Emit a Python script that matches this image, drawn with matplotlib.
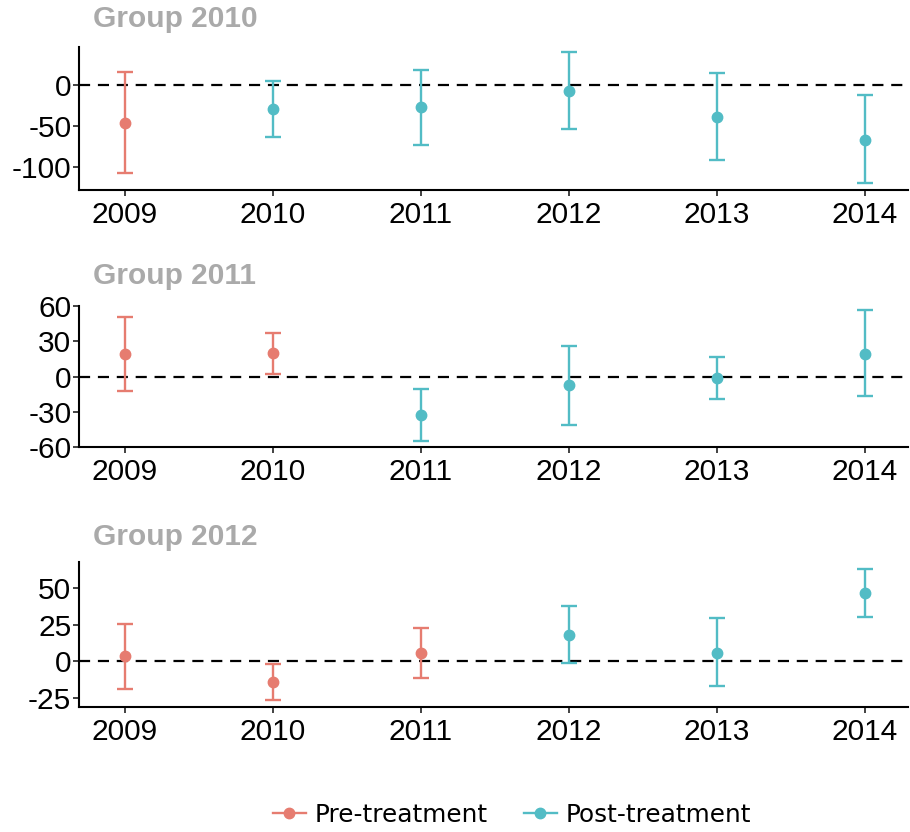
import matplotlib.pyplot as plt
from matplotlib.lines import Line2D
from matplotlib.ticker import FuncFormatter

plt.rcParams['font.family'] = ['Liberation Sans', 'DejaVu Sans']
plt.rcParams['axes.unicode_minus'] = False

PRE_COLOR = '#E67C70'
POST_COLOR = '#52BCC5'

years = [2009, 2010, 2011, 2012, 2013, 2014]
groups = [2010, 2011, 2012]

# point estimates and interval bounds, one list per treatment group
est_2010 = [-46, -30, -27, -7, -39, -67]
lo_2010 = [-107, -64, -73, -54, -91, -120]
hi_2010 = [15, 5, 18, 40, 14, -13]

est_2011 = [19.5, 20, -32.5, -7.5, -1, 19.5]
lo_2011 = [-12, 2, -54.5, -41, -19.5, -17]
hi_2011 = [51, 37, -10.5, 26, 17, 56.5]

est_2012 = [3.6, -14, 6, 18, 6, 46.5]
lo_2012 = [-18.6, -26, -11.5, -1.4, -17, 30]
hi_2012 = [25.3, -1.6, 23, 37.6, 29.4, 63]

panels = [
    (2010, est_2010, lo_2010, hi_2010, (-128, 46), [-100, -50, 0]),
    (2011, est_2011, lo_2011, hi_2011, (-60, 60), [-60, -30, 0, 30, 60]),
    (2012, est_2012, lo_2012, hi_2012, (-31, 67.5), [-25, 0, 25, 50]),
]

W, H = 910, 832
# axes boxes in pixels: (top, bottom)
boxes = [(47, 190), (306, 447), (562, 707)]
title_y = [19, 276, 537]
ax_left, ax_right = 79, 908

fig = plt.figure(figsize=(W / 100, H / 100), dpi=100)

for (grp, est, lo, hi, ylim, yticks), (top, bot), ty in zip(panels, boxes, title_y):
    ax = fig.add_axes([ax_left / W, 1 - bot / H, (ax_right - ax_left) / W, (bot - top) / H])
    ax.axhline(0, color='black', lw=1.6, ls=(0, (5, 3.5)), zorder=1)
    for yr, e, l, h in zip(years, est, lo, hi):
        c = PRE_COLOR if yr < grp else POST_COLOR
        ax.errorbar(yr, e, yerr=[[e - l], [h - e]], fmt='o', color=c,
                    ms=7.5, elinewidth=1.7, capsize=5.5, capthick=1.7, zorder=3)
    ax.set_xlim(2008.69, 2014.29)
    ax.set_ylim(*ylim)
    ax.set_xticks(years)
    ax.set_yticks(yticks)
    ax.yaxis.set_major_formatter(FuncFormatter(lambda v, p: f'{v:g}'))
    ax.tick_params(labelsize=21.5, width=1.3, length=4, color='#333333', labelcolor='black')
    ax.tick_params(axis='y', pad=1.5)
    ax.tick_params(axis='x', pad=4)
    for s in ['top', 'right']:
        ax.spines[s].set_visible(False)
    for s in ['left', 'bottom']:
        ax.spines[s].set_linewidth(1.5)
        ax.spines[s].set_color('black')
    fig.text(93 / W, 1 - ty / H, f'Group {grp}', fontsize=21.5, fontweight='bold',
             color='#AAAAAA', ha='left', va='center')

handles = [
    Line2D([], [], color=PRE_COLOR, marker='o', ms=7.5, lw=1.7),
    Line2D([], [], color=POST_COLOR, marker='o', ms=7.5, lw=1.7),
]
fig.legend(handles, ['Pre-treatment', 'Post-treatment'], loc='center',
           bbox_to_anchor=(512 / W, 1 - 815 / H), ncol=2, frameon=False,
           prop={'family': 'DejaVu Sans', 'size': 17.8}, handlelength=1.35,
           handletextpad=0.35, columnspacing=1.45)

fig.savefig('out.png', dpi=100)
